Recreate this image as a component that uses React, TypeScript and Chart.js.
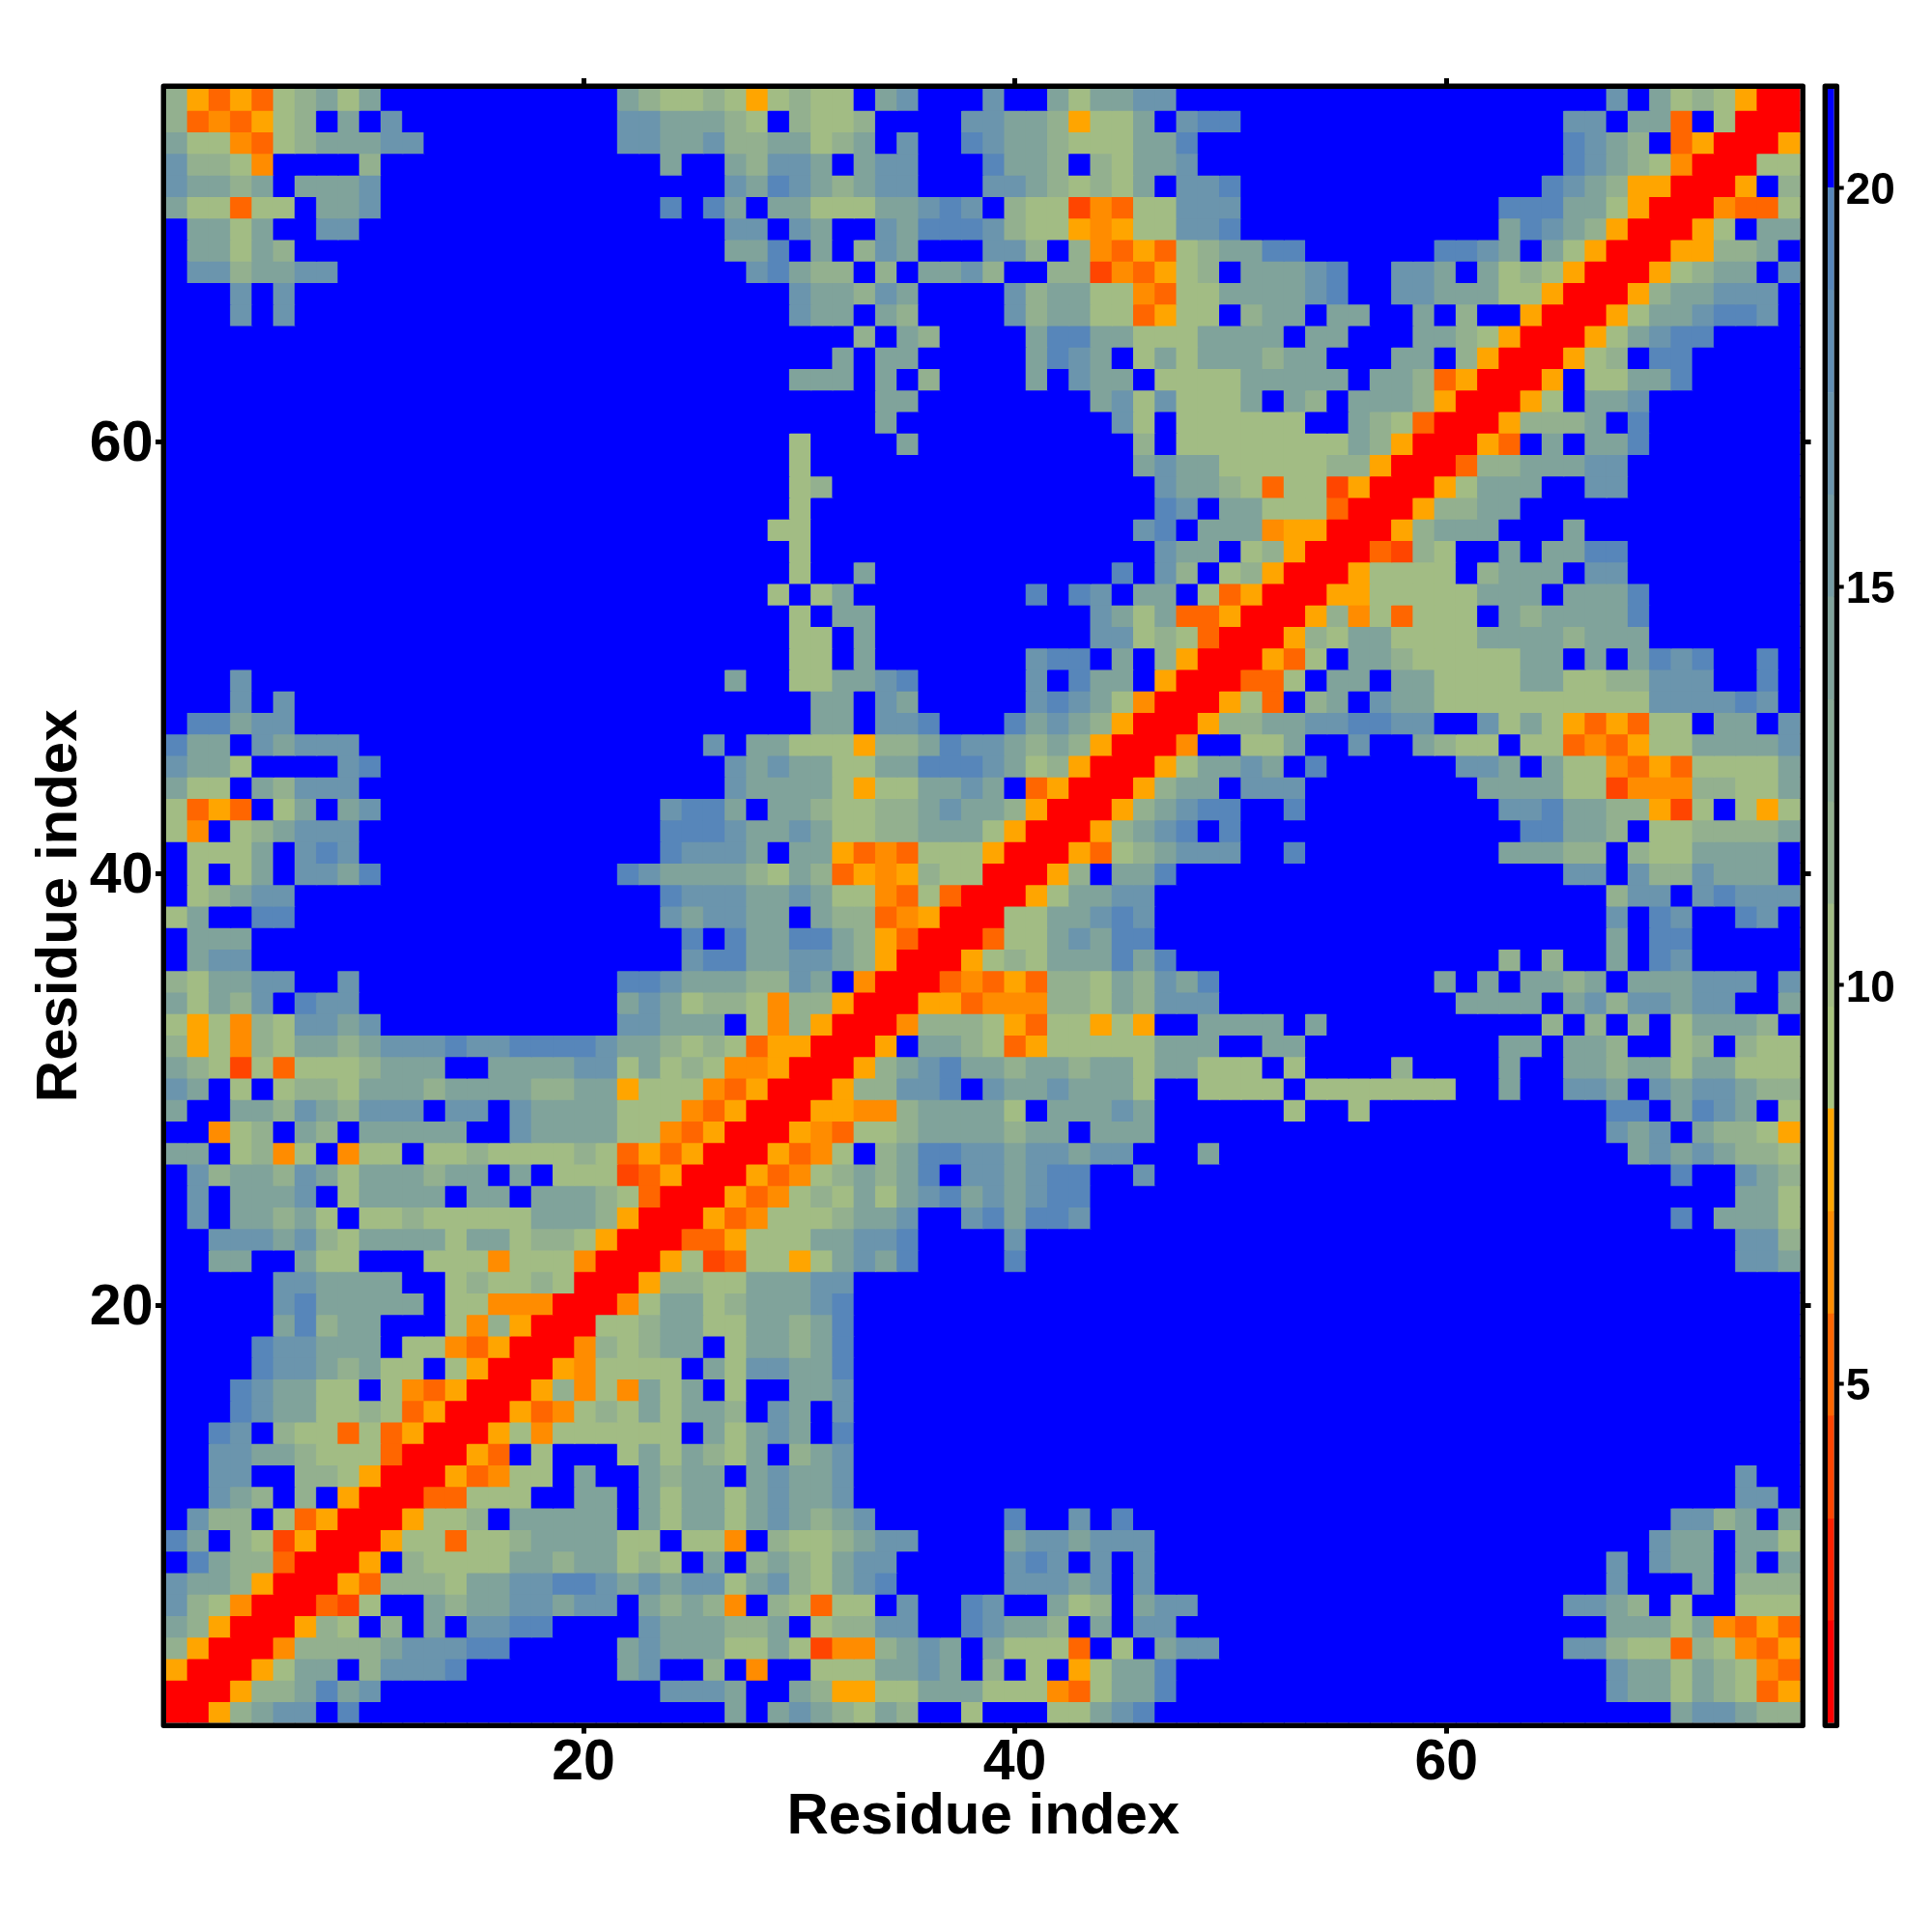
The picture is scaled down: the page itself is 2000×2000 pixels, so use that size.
import React, { useEffect, useRef } from "react";
import { Chart, registerables } from "chart.js";

Chart.register(...registerables);

const B10 = "BBBBBBBBBB";

// Symmetric distance map: each line is one residue (76 down to 1), and its cells run from residue 1 up to the diagonal.
const upperRows: string[] = [
  `fdbdbefgeg ${B10} Bgfeefedef eeBghBBBhB BgegghhBBB ${B10} BBBBBBBhBg efedRR`,
  `fbcbdefBgB hBBBBBBBBB BhhgggfeBf eefBBBBhhg gfdeegBhii ${B10} BBBBBhhBgg bBeRR`,
  `geecbefggg hhBBBBBBBB Bhhgghffgg efgBhBBihg gfeeeggiBB ${B10} BBBBBihgfB bdRR`,
  `hffecBBBBf ${B10} BBBgBBgfhh gBghhBBBig gfBfegghBB ${B10} BBBBBihgfe cRR`,
  `hggfgBgggh ${B10} BBBBBBhgih gfghhBBBhh gfefegBhhi ${B10} BBBBihgfdd RR`,
  `geebeeBggh ${B10} BBBiBigBgg eeegghihBf eeacbeehhh ${B10} BBiiiggedR R`,
  `BggegBBhhB ${B10} BBBBBBhhBh gBBhgiiihf eedcdeehhi ${B10} BBgihgfdRR`,
  `BggegfBBBB ${B10} BBBBBBggiB gBfhgBBBhh fBfcbdbefg giiBBBBBBi ihgBgedRR`,
  `BhhfgghhBB ${B10} BBBBBBBhig ffBfBgghfB BffacbdefB ggghiBBhhg BgefedRR`,
  `BBBhBhBBBB ${B10} BBBBBBBBBh ggfhgBBBBh fggeecbeeg ggghiBBhhg ggeedRR`,
  `BBBhBhBBBB ${B10} BBBBBBBBBh ggBgfBBBBh fggeebdeeB fggBggBBgB fBBdRR`,
  `${B10} ${B10} ${B10} BBfBgfBBBB giiggeeegg ggBggBBBgg fedRR`,
  `${B10} ${B10} ${B10} BgBggBBBBB gihgBegegg gfggBBBggB fdRR`,
  `${B10} ${B10} BBBBBBBBBg ggBgBfBBBB gBhggBeeee gggggBggfb dRR`,
  `${B10} ${B10} ${B10} BBBggBBBBB BBBgheheee gBgfBgggfd RR`,
  `${B10} ${B10} ${B10} BBBgBBBBBB BBBBheBeee eeeBBgfebR R`,
  `${B10} ${B10} BBBBBBBBBe BBBBgBBBBB BBBBBfBeee eeeeegfdRR`,
  `${B10} ${B10} BBBBBBBBBe ${B10} BBBBBghgge eeeeffdRR`,
  `${B10} ${B10} BBBBBBBBBe fBBBBBBBBB BBBBBBhggf ebeeadRR`,
  `${B10} ${B10} BBBBBBBBBe ${B10} BBBBBBihBg geeebRR`,
  `${B10} ${B10} BBBBBBBBee ${B10} BBBBBhiBgg gcddRR`,
  `${B10} ${B10} BBBBBBBBBe ${B10} BBBBBBhggB efdRR`,
  `${B10} ${B10} BBBBBBBBBe BBgBBBBBBB BBBBiBhfBe fdRR`,
  `${B10} ${B10} BBBBBBBBeB egBBBBBBBB iBihBggBeb dRR`,
  `${B10} ${B10} BBBBBBBBBe BggBBBBBBB BBBhgegbbd RR`,
  `${B10} ${B10} BBBBBBBBBe eBgBBBBBBB BBBhhefebR R`,
  `${B10} ${B10} BBBBBBBBBe eBgBBBBBBB hiiBgBfdRR`,
  `BBBhBBBBBB ${B10} BBBBBBgBBe egghiBBBBB hBiggBdRR`,
  `BBBhBhBBBB ${B10} ${B10} ggBhgBBBBB hihgecRR`,
  `BiighhBBBB ${B10} ${B10} ggBhhiBBBi ghgfdRR`,
  `iggBhghhhB ${B10} BBBBBhBgge eedffgihhg fgfdRR`,
  `hggeBBBBhi ${B10} BBBBBBhghg geeggiiihg efdRR`,
  `geeBgfhhhB ${B10} BBBBBBhggg gedeegghgB bdRR`,
  `ebdbBegBgh ${B10} BBBhiigBgg feeffghggf dRR`,
  `ecBefghhhB ${B10} BBBiiihggh geeffggged RR`,
  `BeeegBhihB ${B10} BBBihhhgBg gdbcbeeedR R`,
  `BeBegBhhgi ${B10} Bihggggfeg fbdcdfeeRR`,
  `BefghhBBBB ${B10} BBBihhhggh geecbebRR`,
  `egBBiiBBBB ${B10} BBBhghhggB gffbcdRR`,
  `BgggBBBBBB ${B10} BBBBiBiggi igfdbRR`,
  `BghhBBBBBB ${B10} BBBBhiiggh hgfdRR`,
  `fegghhBBhB ${B10} Biihgggffh gBcRR`,
  `gegfhBihhB ${B10} Bghgeffecf fdRR`,
  `edecfehhgh ${B10} BhhgggBecf dRR`,
  `fdecfeggfg hhhihhiiii hggfefebdd RR`,
  `gfeaebeeef gggBBggggh hegefeccdR R`,
  `hgBeBeffeg ggfggggffg gdeeecbdRR`,
  `gBBggfhgfh hhBhhBhggg geeecbdRR`,
  `BBcefBgfBg ggggBBhggg geecbdRR`,
  `ggBefceBce eBeefeeeef ebdbdRR`,
  `Bhfggfhgeg ggfggBgBee eabdRR`,
  `BhBggghBeg gggBggBggg febRR`,
  `BhBggfgeBe efeeeeeggg fdRR`,
  `BBhhhghfeg gggeggeffe dRR`,
  `BBggBBgeeB BBeeeceeec RR`,
  `BBBBBhhggg gBBefeefeR R`,
  `BBBBBhiggg ggBeecccRR`,
  `BBBBBgifgg BBBecfdRR`,
  `BBBBihhggg BeecbdRR`,
  `BBBBihhgfg eeBedRR`,
  `BBBihggeeB ecbdRR`,
  `BBBihggeef ebdRR`,
  `BBihBfeebe bdRR`,
  `BBhhggfeee bRR`,
  `BBhhBBffed RR`,
  `BBhgfBfBdR R`,
  `BhffBebdRR`,
  `igBfeadRR`,
  `BigffbRR`,
  `hggfdRR`,
  `hfecRR`,
  `gfdRR`,
  `fdRR`,
  `dRR`,
  `RR`,
  `R`,
];

const cellLetters = ["R", "a", "b", "c", "d", "e", "f", "g", "h", "i", "B"];
const cellValues = [1.5, 4.1, 5.3, 6.6, 7.9, 10.4, 11.7, 14.2, 16.8, 19.4, 20.6];

const binBreaks = [0.75, 2.03, 3.31, 4.6, 5.88, 7.16, 8.45, 9.73, 11.02, 12.3, 13.58, 14.87, 16.15, 17.43, 18.72, 20, 21.24];
const binColors = [
  "#ff0000", "#ff2200", "#ff4500", "#ff6600", "#ff8c00", "#ffa500",
  "#a8c47e", "#a2bc84", "#93b08f", "#89aa95", "#80a39b", "#759ca4", "#6b95ad", "#618eb3", "#5786ba",
  "#0000ff",
];

const axisTicks = [20, 40, 60];
const colorbarTicks = [5, 10, 15, 20];
const residueCount = 76;
const xAxisRange = [0.65, 76.41];
const yAxisRange = [0.65, 76.35];

const AXIS_FONT = '"Liberation Sans", Arial, sans-serif';

function colorFor(v: number): string {
  for (let i = 0; i < binColors.length; i++) {
    if (v < binBreaks[i + 1]) return binColors[i];
  }
  return binColors[binColors.length - 1];
}

function buildPoints() {
  const matrix: Record<string, number> = {};
  upperRows.forEach((line, index) => {
    const row = residueCount - index;
    const cells = line.replace(/\s/g, "");
    for (let c = 1; c <= row; c++) {
      const ch = cells[c - 1] ?? "B";
      const v = cellValues[cellLetters.indexOf(ch)];
      matrix[`${row}:${c}`] = v;
      matrix[`${c}:${row}`] = v;
    }
  });
  const points: { x: number; y: number; v: number }[] = [];
  for (let y = 1; y <= residueCount; y++) {
    for (let x = 1; x <= residueCount; x++) {
      points.push({ x, y, v: matrix[`${y}:${x}`] });
    }
  }
  return points;
}

const framePlugin = {
  id: "frame",
  afterDraw(chart: any) {
    const { left, top, right, bottom } = chart.chartArea;
    const ctx = chart.ctx;
    const lw = 5.4;
    ctx.save();
    ctx.strokeStyle = "#000";
    ctx.lineWidth = lw;
    ctx.lineJoin = "round";
    ctx.strokeRect(left - lw / 2, top - lw / 2, right - left + lw, bottom - top + lw);
    ctx.restore();
  },
};

const setTicks = (values: number[]) => (scale: any) => {
  scale.ticks = values.map((value) => ({ value }));
};

export default function App() {
  const mainRef = useRef<HTMLCanvasElement>(null);
  const barRef = useRef<HTMLCanvasElement>(null);

  useEffect(() => {
    const points = buildPoints();
    const tickGrid = { drawOnChartArea: false, drawTicks: true, tickLength: 11, tickWidth: 5, tickColor: "#000" };
    const tickFont = { family: AXIS_FONT, size: 59, weight: "bold" as const };
    const titleFont = { family: AXIS_FONT, size: 60, weight: "bold" as const };

    const main = new Chart(mainRef.current!, {
      type: "scatter",
      data: {
        datasets: [
          {
            data: points,
            xAxisID: "cellX",
            yAxisID: "cellY",
            pointStyle: "rect",
            pointRadius: (ctx: any) => (ctx.chart.scales.cellX.width / residueCount + 1.2) / Math.SQRT2,
            pointBorderWidth: 0,
            pointBackgroundColor: points.map((p) => colorFor(p.v)),
          },
        ],
      },
      options: {
        responsive: false,
        animation: false,
        devicePixelRatio: 1,
        events: [],
        layout: { padding: 0 },
        plugins: { legend: { display: false }, tooltip: { enabled: false } },
        scales: {
          cellX: { type: "linear", display: false, axis: "x", position: "bottom", min: 0.5, max: 76.5 },
          cellY: { type: "linear", display: false, axis: "y", position: "left", min: 0.5, max: 76.5 },
          x: {
            type: "linear",
            position: "bottom",
            min: xAxisRange[0],
            max: xAxisRange[1],
            afterBuildTicks: setTicks(axisTicks),
            afterFit: (s: any) => { s.height = 216.4; },
            grid: tickGrid,
            border: { display: false },
            ticks: { color: "#000", font: tickFont, padding: -4, maxRotation: 0, autoSkip: false },
            title: { display: true, text: "Residue index", color: "#000", font: titleFont, padding: { top: 0, bottom: 83 } },
          },
          y: {
            type: "linear",
            position: "left",
            min: yAxisRange[0],
            max: yAxisRange[1],
            afterBuildTicks: setTicks(axisTicks),
            afterFit: (s: any) => { s.width = 172; },
            grid: tickGrid,
            border: { display: false },
            ticks: { color: "#000", font: tickFont, padding: 2.5, labelOffset: 3.5, autoSkip: false },
            title: { display: true, text: "Residue index", color: "#000", font: titleFont, padding: { top: 26.5, bottom: 0 } },
          },
          x2: {
            type: "linear",
            position: "top",
            min: xAxisRange[0],
            max: xAxisRange[1],
            afterBuildTicks: setTicks(axisTicks),
            afterFit: (s: any) => { s.height = 92; },
            grid: tickGrid,
            border: { display: false },
            ticks: { display: false },
          },
          y2: {
            type: "linear",
            position: "right",
            min: yAxisRange[0],
            max: yAxisRange[1],
            afterBuildTicks: setTicks(axisTicks),
            afterFit: (s: any) => { s.width = 136.4; },
            grid: tickGrid,
            border: { display: false },
            ticks: { display: false },
          },
        },
      },
      plugins: [framePlugin],
    } as any);

    const bar = new Chart(barRef.current!, {
      type: "bar",
      data: {
        labels: ["distance"],
        datasets: binColors.map((color, i) => ({
          data: [[binBreaks[i], binBreaks[i + 1]]],
          backgroundColor: color,
          borderWidth: 0,
          barPercentage: 1,
          categoryPercentage: 1,
          grouped: false,
        })),
      },
      options: {
        responsive: false,
        animation: false,
        devicePixelRatio: 1,
        events: [],
        layout: { padding: { left: 1892, top: 92, bottom: 216.4, right: 0 } },
        plugins: { legend: { display: false }, tooltip: { enabled: false } },
        scales: {
          x: { display: false },
          y: {
            position: "right",
            min: binBreaks[0],
            max: binBreaks[binBreaks.length - 1],
            afterBuildTicks: setTicks(colorbarTicks),
            afterFit: (s: any) => { s.width = 101.3; },
            grid: { drawOnChartArea: false, drawTicks: true, tickLength: 10, tickWidth: 4, tickColor: "#000" },
            border: { display: false },
            ticks: {
              color: "#000",
              font: { family: AXIS_FONT, size: 46, weight: "bold" },
              padding: 2,
              labelOffset: 4,
              autoSkip: false,
            },
          },
        },
      },
      plugins: [framePlugin],
    } as any);

    return () => {
      main.destroy();
      bar.destroy();
    };
  }, []);

  const layer: React.CSSProperties = { position: "absolute", left: 0, top: 0, display: "block" };
  return (
    <div style={{ position: "absolute", left: 0, top: 0, width: 2000, height: 2000, background: "#fff" }}>
      <canvas ref={mainRef} width={2000} height={2000} style={layer} />
      <canvas ref={barRef} width={2000} height={2000} style={layer} />
    </div>
  );
}
